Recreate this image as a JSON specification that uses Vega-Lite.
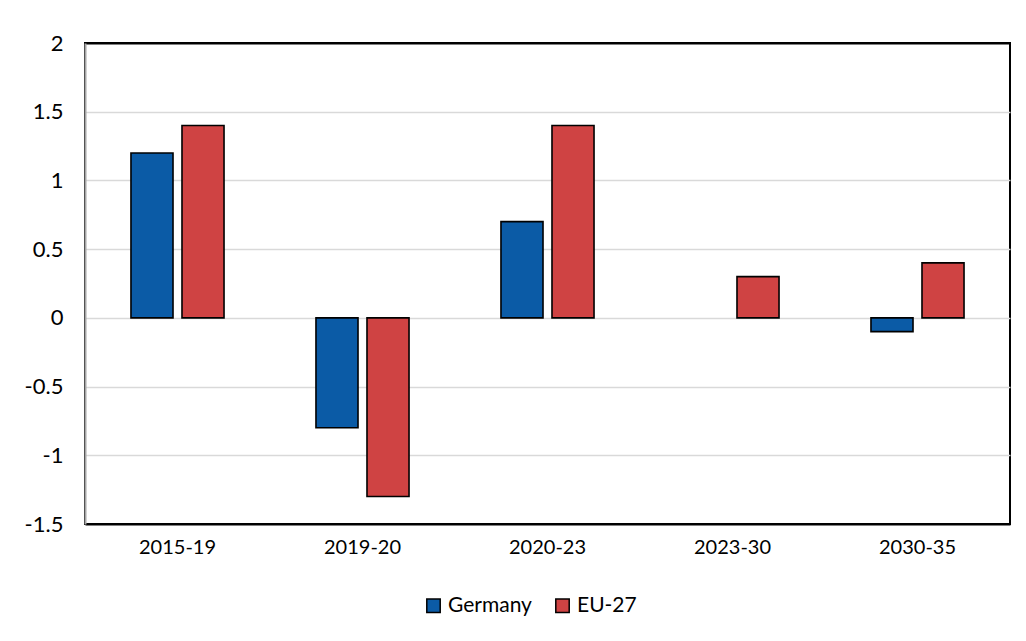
{
  "$schema": "https://vega.github.io/schema/vega-lite/v6.json",
  "width": 925,
  "height": 481,
  "autosize": {"type": "none"},
  "padding": {"left": 85, "top": 43, "right": 16, "bottom": 117},
  "background": "white",
  "config": {
    "font": "Lato",
    "view": {"stroke": "black", "strokeWidth": 2},
    "axis": {"labelFont": "Lato", "labelColor": "black", "labelFontSize": 20, "ticks": false},
    "legend": {"labelFont": "Lato", "labelColor": "black", "labelFontSize": 21}
  },
  "data": {
    "values": [
      {"period": "2015-19", "series": "Germany", "value": 1.2},
      {"period": "2015-19", "series": "EU-27", "value": 1.4},
      {"period": "2019-20", "series": "Germany", "value": -0.8},
      {"period": "2019-20", "series": "EU-27", "value": -1.3},
      {"period": "2020-23", "series": "Germany", "value": 0.7},
      {"period": "2020-23", "series": "EU-27", "value": 1.4},
      {"period": "2023-30", "series": "Germany", "value": 0},
      {"period": "2023-30", "series": "EU-27", "value": 0.3},
      {"period": "2030-35", "series": "Germany", "value": -0.1},
      {"period": "2030-35", "series": "EU-27", "value": 0.4}
    ]
  },
  "encoding": {
    "x": {
      "field": "period",
      "type": "nominal",
      "sort": null,
      "title": null,
      "scale": {"paddingInner": 0.497, "paddingOuter": 0.2485},
      "axis": {"labelAngle": 0, "labelPadding": 13, "domain": false, "labelFontSize": 20}
    }
  },
  "layer": [
    {
      "mark": {"type": "bar", "stroke": "black", "strokeWidth": 1.6},
      "transform": [{"filter": "datum.value != 0"}],
      "encoding": {
        "xOffset": {
          "field": "series",
          "type": "nominal",
          "sort": ["Germany", "EU-27"],
          "scale": {"paddingInner": 0.176, "paddingOuter": 0}
        },
        "y": {
          "field": "value",
          "type": "quantitative",
          "title": null,
          "scale": {"domain": [-1.5, 2], "nice": false, "zero": true},
          "axis": {
            "values": [-1.5, -1, -0.5, 0, 0.5, 1, 1.5, 2],
            "labelExpr": "'' + datum.value",
            "labelFontSize": 22,
            "labelPadding": 22,
            "gridColor": {"condition": {"test": "datum.value == 2 || datum.value == -1.5", "value": "black"}, "value": "#d9d9d9"},
            "gridWidth": {"condition": {"test": "datum.value == 2 || datum.value == -1.5", "value": 2}, "value": 1.5},
            "domainColor": "#a6a6a6",
            "domainWidth": 2
          }
        },
        "color": {
          "field": "series",
          "type": "nominal",
          "sort": ["Germany", "EU-27"],
          "title": null,
          "scale": {"domain": ["Germany", "EU-27"], "range": ["#0b5ba6", "#cf4343"]},
          "legend": {
            "orient": "none",
            "direction": "horizontal",
            "legendX": 338,
            "legendY": 552,
            "symbolType": "square",
            "symbolSize": 180,
            "symbolStrokeColor": "black",
            "symbolStrokeWidth": 1.5,
            "labelOffset": 4,
            "columnPadding": 20
          }
        }
      }
    },
    {
      "mark": {"type": "rule", "color": "#a6a6a6", "strokeWidth": 2},
      "encoding": {"y": {"datum": 0}}
    }
  ]
}
